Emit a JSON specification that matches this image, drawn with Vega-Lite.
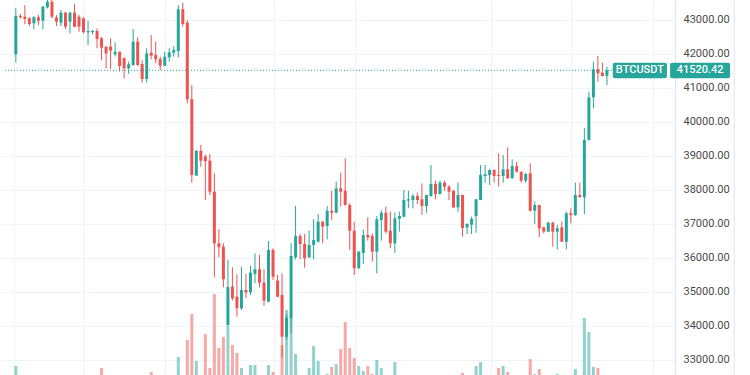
{
  "$schema": "https://vega.github.io/schema/vega-lite/v6.json",
  "width": 675,
  "height": 375,
  "autosize": {"type": "none"},
  "padding": {"left": 0, "top": 0, "right": 75, "bottom": 0},
  "background": "#ffffff",
  "config": {"view": {"stroke": null}, "axis": {"labelFont": "Roboto"}, "axisY": {"labelOverlap": false}, "axisRight": {"labelOverlap": false}},
  "data": {"values": [
    {"i":0,"o":41991,"h":43344,"l":41744,"c":43118,"v":24},
    {"i":1,"o":43120,"h":43180,"l":43040,"c":43080,"v":10},
    {"i":2,"o":43097,"h":43441,"l":42882,"c":43029,"v":10},
    {"i":3,"o":43050,"h":43088,"l":42824,"c":42882,"v":10},
    {"i":4,"o":42903,"h":43118,"l":42726,"c":43079,"v":10},
    {"i":5,"o":43079,"h":43147,"l":42853,"c":42979,"v":10},
    {"i":6,"o":42979,"h":43412,"l":42726,"c":43391,"v":10},
    {"i":7,"o":43373,"h":43588,"l":43340,"c":43538,"v":10},
    {"i":8,"o":43538,"h":43590,"l":43050,"c":43097,"v":10},
    {"i":9,"o":43079,"h":43147,"l":42824,"c":42950,"v":10},
    {"i":10,"o":42921,"h":43294,"l":42824,"c":43215,"v":10},
    {"i":11,"o":43215,"h":43240,"l":42726,"c":42803,"v":10},
    {"i":12,"o":42950,"h":43240,"l":42609,"c":43215,"v":10},
    {"i":13,"o":43215,"h":43470,"l":42785,"c":42803,"v":10},
    {"i":14,"o":43097,"h":43150,"l":42656,"c":42803,"v":10},
    {"i":15,"o":43050,"h":43080,"l":42609,"c":42640,"v":10},
    {"i":16,"o":42638,"h":42979,"l":42265,"c":42676,"v":10},
    {"i":17,"o":42640,"h":42700,"l":42580,"c":42680,"v":10},
    {"i":18,"o":42676,"h":42750,"l":42168,"c":42441,"v":10},
    {"i":19,"o":42462,"h":42509,"l":41824,"c":42185,"v":22},
    {"i":20,"o":42215,"h":42230,"l":41580,"c":42020,"v":10},
    {"i":21,"o":42215,"h":42462,"l":41560,"c":42100,"v":10},
    {"i":22,"o":41991,"h":42344,"l":41921,"c":42068,"v":10},
    {"i":23,"o":42068,"h":42070,"l":41480,"c":41650,"v":10},
    {"i":24,"o":41880,"h":41900,"l":41285,"c":41580,"v":10},
    {"i":25,"o":41580,"h":41774,"l":41412,"c":41700,"v":10},
    {"i":26,"o":41676,"h":42735,"l":41650,"c":42362,"v":10},
    {"i":27,"o":42362,"h":42491,"l":41650,"c":41676,"v":10},
    {"i":28,"o":41706,"h":41824,"l":41156,"c":41265,"v":10},
    {"i":29,"o":41265,"h":42168,"l":41156,"c":42020,"v":10},
    {"i":30,"o":42038,"h":42559,"l":41844,"c":41950,"v":18},
    {"i":31,"o":41970,"h":42362,"l":41726,"c":41844,"v":10},
    {"i":32,"o":41853,"h":41920,"l":41530,"c":41656,"v":10},
    {"i":33,"o":41656,"h":42068,"l":41640,"c":41920,"v":10},
    {"i":34,"o":41903,"h":42168,"l":41774,"c":42050,"v":10},
    {"i":35,"o":42038,"h":42235,"l":41920,"c":42118,"v":10},
    {"i":36,"o":42088,"h":43441,"l":41903,"c":43315,"v":33},
    {"i":37,"o":43315,"h":43509,"l":42803,"c":42882,"v":12},
    {"i":38,"o":42921,"h":43000,"l":40550,"c":40668,"v":50},
    {"i":39,"o":40668,"h":41088,"l":38215,"c":38441,"v":76},
    {"i":40,"o":38421,"h":39176,"l":38420,"c":39156,"v":29},
    {"i":41,"o":39156,"h":39324,"l":38685,"c":38862,"v":12},
    {"i":42,"o":38990,"h":39040,"l":37706,"c":38850,"v":56},
    {"i":43,"o":38862,"h":39059,"l":37850,"c":37950,"v":22},
    {"i":44,"o":37950,"h":38491,"l":35433,"c":36433,"v":96},
    {"i":45,"o":36433,"h":36844,"l":36021,"c":36315,"v":42},
    {"i":46,"o":36333,"h":36433,"l":35138,"c":35374,"v":53},
    {"i":47,"o":34030,"h":35941,"l":34000,"c":35147,"v":64},
    {"i":48,"o":35157,"h":35727,"l":34750,"c":34815,"v":45},
    {"i":49,"o":34862,"h":35520,"l":34274,"c":34521,"v":37},
    {"i":50,"o":34521,"h":35745,"l":34470,"c":35059,"v":22},
    {"i":51,"o":35059,"h":35530,"l":34815,"c":34990,"v":10},
    {"i":52,"o":34990,"h":35765,"l":34912,"c":35568,"v":25},
    {"i":53,"o":35530,"h":36138,"l":35256,"c":35668,"v":25},
    {"i":54,"o":35668,"h":36088,"l":35138,"c":35274,"v":10},
    {"i":55,"o":35274,"h":35668,"l":34597,"c":34744,"v":10},
    {"i":56,"o":34715,"h":36500,"l":34700,"c":36235,"v":25},
    {"i":57,"o":36235,"h":36285,"l":35353,"c":35450,"v":18},
    {"i":58,"o":35333,"h":35500,"l":34850,"c":34862,"v":10},
    {"i":59,"o":34912,"h":35550,"l":33059,"c":33686,"v":45},
    {"i":60,"o":33686,"h":34350,"l":33600,"c":34245,"v":80},
    {"i":61,"o":34227,"h":36433,"l":33785,"c":36059,"v":72},
    {"i":62,"o":36021,"h":37529,"l":35962,"c":36647,"v":36},
    {"i":63,"o":36647,"h":36706,"l":35962,"c":36412,"v":10},
    {"i":64,"o":36412,"h":36706,"l":35715,"c":35991,"v":10},
    {"i":65,"o":36021,"h":36803,"l":35990,"c":36383,"v":22},
    {"i":66,"o":36383,"h":37138,"l":35962,"c":36530,"v":44},
    {"i":67,"o":36480,"h":37294,"l":36450,"c":37068,"v":29},
    {"i":68,"o":37068,"h":37097,"l":36433,"c":36921,"v":10},
    {"i":69,"o":36941,"h":37529,"l":36550,"c":37391,"v":16},
    {"i":70,"o":37391,"h":37980,"l":37118,"c":37333,"v":23},
    {"i":71,"o":37333,"h":38245,"l":37315,"c":38050,"v":26},
    {"i":72,"o":38050,"h":38509,"l":37510,"c":37950,"v":41},
    {"i":73,"o":37980,"h":38932,"l":37550,"c":37559,"v":68},
    {"i":74,"o":37559,"h":37610,"l":36235,"c":36803,"v":42},
    {"i":75,"o":36803,"h":37068,"l":35500,"c":35697,"v":32},
    {"i":76,"o":35697,"h":36200,"l":35680,"c":36186,"v":24},
    {"i":77,"o":36147,"h":36844,"l":35824,"c":36676,"v":19},
    {"i":78,"o":36676,"h":37197,"l":36509,"c":36609,"v":24},
    {"i":79,"o":36647,"h":36725,"l":35892,"c":36186,"v":16},
    {"i":80,"o":36186,"h":37235,"l":35550,"c":37138,"v":30},
    {"i":81,"o":37118,"h":37412,"l":36509,"c":37333,"v":22},
    {"i":82,"o":37333,"h":37510,"l":36725,"c":36774,"v":10},
    {"i":83,"o":36803,"h":37362,"l":36285,"c":36433,"v":10},
    {"i":84,"o":36433,"h":37333,"l":36155,"c":37168,"v":28},
    {"i":85,"o":37150,"h":37362,"l":36774,"c":37235,"v":10},
    {"i":86,"o":37215,"h":38000,"l":37197,"c":37706,"v":10},
    {"i":87,"o":37687,"h":37980,"l":37462,"c":37727,"v":10},
    {"i":88,"o":37706,"h":37882,"l":37462,"c":37824,"v":10},
    {"i":89,"o":37824,"h":37921,"l":37590,"c":37706,"v":10},
    {"i":90,"o":37727,"h":38197,"l":37265,"c":37530,"v":10},
    {"i":91,"o":37530,"h":37860,"l":37333,"c":37853,"v":10},
    {"i":92,"o":37824,"h":38735,"l":37800,"c":38176,"v":10},
    {"i":93,"o":38176,"h":38274,"l":37727,"c":37882,"v":10},
    {"i":94,"o":37882,"h":38274,"l":37870,"c":38215,"v":10},
    {"i":95,"o":38215,"h":38274,"l":37980,"c":38097,"v":10},
    {"i":96,"o":38097,"h":38147,"l":37706,"c":37950,"v":10},
    {"i":97,"o":37980,"h":37990,"l":37462,"c":37490,"v":10},
    {"i":98,"o":37490,"h":38215,"l":37362,"c":37853,"v":10},
    {"i":99,"o":37853,"h":37860,"l":36627,"c":36882,"v":17},
    {"i":100,"o":36900,"h":37020,"l":36706,"c":37000,"v":10},
    {"i":101,"o":36980,"h":37215,"l":36706,"c":37147,"v":10},
    {"i":102,"o":37235,"h":37730,"l":36744,"c":37727,"v":24},
    {"i":103,"o":37706,"h":38735,"l":37700,"c":38441,"v":28},
    {"i":104,"o":38412,"h":38735,"l":38215,"c":38462,"v":10},
    {"i":105,"o":38441,"h":38608,"l":38147,"c":38588,"v":10},
    {"i":106,"o":38588,"h":38608,"l":38215,"c":38412,"v":10},
    {"i":107,"o":38441,"h":39079,"l":38100,"c":38412,"v":22},
    {"i":108,"o":38412,"h":39030,"l":38215,"c":38608,"v":24},
    {"i":109,"o":38608,"h":39255,"l":38330,"c":38344,"v":18},
    {"i":110,"o":38344,"h":38903,"l":38330,"c":38706,"v":10},
    {"i":111,"o":38706,"h":38833,"l":38510,"c":38538,"v":10},
    {"i":112,"o":38538,"h":38540,"l":38215,"c":38274,"v":10},
    {"i":113,"o":38274,"h":38510,"l":38215,"c":38471,"v":10},
    {"i":114,"o":38491,"h":38785,"l":37362,"c":37391,"v":31},
    {"i":115,"o":37391,"h":37656,"l":37000,"c":37559,"v":16},
    {"i":116,"o":37559,"h":37560,"l":36609,"c":36873,"v":21},
    {"i":117,"o":36903,"h":36921,"l":36725,"c":36774,"v":10},
    {"i":118,"o":36774,"h":37068,"l":36760,"c":37038,"v":10},
    {"i":119,"o":37038,"h":37068,"l":36333,"c":36774,"v":10},
    {"i":120,"o":36774,"h":36970,"l":36256,"c":36874,"v":16},
    {"i":121,"o":36903,"h":37068,"l":36470,"c":36480,"v":10},
    {"i":122,"o":36480,"h":37362,"l":36256,"c":37315,"v":10},
    {"i":123,"o":37315,"h":37462,"l":37020,"c":37265,"v":10},
    {"i":124,"o":37265,"h":38215,"l":37235,"c":37853,"v":21},
    {"i":125,"o":37853,"h":38215,"l":37780,"c":37785,"v":10},
    {"i":126,"o":37785,"h":39815,"l":37294,"c":39470,"v":72},
    {"i":127,"o":39470,"h":40892,"l":39450,"c":40727,"v":58},
    {"i":128,"o":40727,"h":41774,"l":40403,"c":41550,"v":23},
    {"i":129,"o":41550,"h":41941,"l":41185,"c":41432,"v":22},
    {"i":130,"o":41450,"h":41744,"l":41340,"c":41353,"v":10},
    {"i":131,"o":41353,"h":41627,"l":41088,"c":41520,"v":10}
  ]},
  "resolve": {"scale": {"y": "independent"}},
  "layer": [
    {
      "mark": {"type": "bar", "width": 3, "clip": true},
      "encoding": {
        "x": {"field": "i", "type": "quantitative",
              "scale": {"domain": [-2.4017, 144.978], "nice": false, "zero": false},
              "axis": {"orient": "bottom", "values": [-0.44, 14.85, 33, 57.2, 75.1, 105.2, 123.1, 141.3],
                       "grid": true, "gridColor": "#f0f3fa", "labels": false, "ticks": false,
                       "domain": false, "title": null}},
        "y": {"field": "v", "type": "quantitative",
              "scale": {"domain": [15, 390], "nice": false, "zero": false}, "axis": null},
        "y2": {"datum": 0},
        "color": {"condition": {"test": "datum.c >= datum.o", "value": "#92d2cc"}, "value": "#f7a9a7"}
      }
    },
    {
      "layer": [
        {
          "mark": {"type": "rule", "strokeWidth": 1},
          "encoding": {
            "x": {"field": "i", "type": "quantitative",
                  "scale": {"domain": [-2.4017, 144.978], "nice": false, "zero": false}},
            "y": {"field": "l", "type": "quantitative",
                  "scale": {"domain": [32558.8, 43588.2], "nice": false, "zero": false},
                  "axis": {"orient": "right", "values": [33000, 34000, 35000, 36000, 37000, 38000, 39000, 40000, 41000, 42000, 43000],
                           "format": ".2f", "grid": true, "gridColor": "#f0f3fa", "domain": true,
                           "domainColor": "#e0e3eb", "ticks": false, "labelPadding": 8, "labelOverlap": false,
                           "labelFontSize": 11, "labelColor": "#4a4a4a", "title": null, "labelFont": "Roboto"}},
            "y2": {"field": "h"},
            "color": {"condition": {"test": "datum.c >= datum.o", "value": "#26a69a"}, "value": "#ef5350"}
          }
        },
        {
          "mark": {"type": "bar", "width": 3},
          "encoding": {
            "x": {"field": "i", "type": "quantitative"},
            "y": {"field": "o", "type": "quantitative",
                  "axis": {"orient": "right", "values": [33000, 34000, 35000, 36000, 37000, 38000, 39000, 40000, 41000, 42000, 43000],
                           "format": ".2f", "grid": true, "gridColor": "#f0f3fa", "domain": true,
                           "domainColor": "#e0e3eb", "ticks": false, "labelPadding": 8, "labelOverlap": false,
                           "labelFontSize": 11, "labelColor": "#4a4a4a", "title": null, "labelFont": "Roboto"}},
            "y2": {"field": "c"},
            "color": {"condition": {"test": "datum.c >= datum.o", "value": "#26a69a"}, "value": "#ef5350"}
          }
        },
        {
          "data": {"values": [{}]},
          "mark": {"type": "rule", "strokeWidth": 1, "strokeDash": [1, 2], "color": "#26a69a"},
          "encoding": {
            "x": {"datum": -2.4017, "type": "quantitative"},
            "x2": {"datum": 132.3},
            "y": {"datum": 41520.42, "type": "quantitative",
                  "axis": {"orient": "right", "values": [33000, 34000, 35000, 36000, 37000, 38000, 39000, 40000, 41000, 42000, 43000],
                           "format": ".2f", "grid": true, "gridColor": "#f0f3fa", "domain": true,
                           "domainColor": "#e0e3eb", "ticks": false, "labelPadding": 8, "labelOverlap": false,
                           "labelFontSize": 11, "labelColor": "#4a4a4a", "title": null, "labelFont": "Roboto"}}
          }
        },
        {
          "data": {"values": [{}]},
          "mark": {"type": "rule", "strokeWidth": 1, "color": "#e0e3eb"},
          "encoding": {
            "x": {"datum": 159.2, "type": "quantitative"}
          }
        },
        {
          "data": {"values": [{}]},
          "mark": {"type": "rect", "color": "#26a69a", "cornerRadius": 2},
          "encoding": {
            "x": {"datum": 132.3, "type": "quantitative"},
            "x2": {"datum": 144.3},
            "y": {"datum": 41744, "type": "quantitative",
                  "axis": {"orient": "right", "values": [33000, 34000, 35000, 36000, 37000, 38000, 39000, 40000, 41000, 42000, 43000],
                           "format": ".2f", "grid": true, "gridColor": "#f0f3fa", "domain": true,
                           "domainColor": "#e0e3eb", "ticks": false, "labelPadding": 8, "labelOverlap": false,
                           "labelFontSize": 11, "labelColor": "#4a4a4a", "title": null, "labelFont": "Roboto"}},
            "y2": {"datum": 41285}
          }
        },
        {
          "data": {"values": [{}]},
          "mark": {"type": "rect", "color": "#26a69a", "cornerRadius": 2},
          "encoding": {
            "x": {"datum": 145.0, "type": "quantitative"},
            "x2": {"datum": 158.3},
            "y": {"datum": 41744, "type": "quantitative",
                  "axis": {"orient": "right", "values": [33000, 34000, 35000, 36000, 37000, 38000, 39000, 40000, 41000, 42000, 43000],
                           "format": ".2f", "grid": true, "gridColor": "#f0f3fa", "domain": true,
                           "domainColor": "#e0e3eb", "ticks": false, "labelPadding": 8, "labelOverlap": false,
                           "labelFontSize": 11, "labelColor": "#4a4a4a", "title": null, "labelFont": "Roboto"}},
            "y2": {"datum": 41285}
          }
        },
        {
          "data": {"values": [{"t": "BTCUSDT", "p": 138.3}, {"t": "41520.42", "p": 151.65}]},
          "mark": {"type": "text", "color": "#ffffff", "font": "Roboto", "fontSize": 11, "fontWeight": 500, "align": "center", "baseline": "middle"},
          "encoding": {
            "x": {"field": "p", "type": "quantitative"},
            "y": {"datum": 41520.42, "type": "quantitative",
                  "axis": {"orient": "right", "values": [33000, 34000, 35000, 36000, 37000, 38000, 39000, 40000, 41000, 42000, 43000],
                           "format": ".2f", "grid": true, "gridColor": "#f0f3fa", "domain": true,
                           "domainColor": "#e0e3eb", "ticks": false, "labelPadding": 8, "labelOverlap": false,
                           "labelFontSize": 11, "labelColor": "#4a4a4a", "title": null, "labelFont": "Roboto"}},
            "text": {"field": "t"}
          }
        }
      ]
    }
  ]
}
